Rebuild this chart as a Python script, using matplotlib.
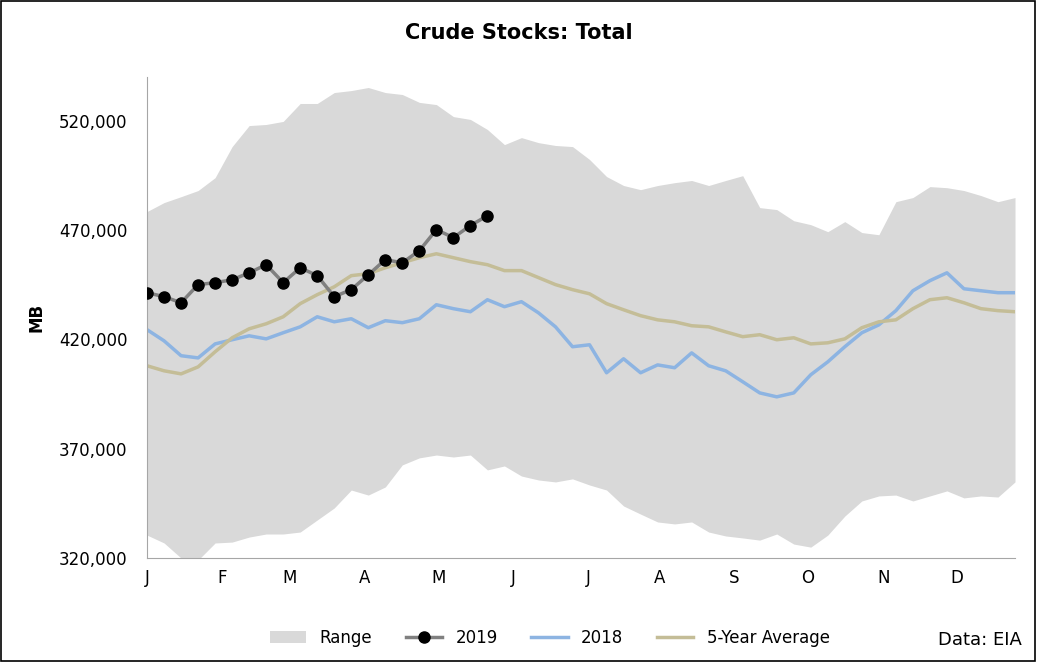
import matplotlib.pyplot as plt
import numpy as np
from matplotlib.patches import Rectangle

# weekly values, thousand barrels (MB / 1000)
stocks_2019 = [441.3, 439.5, 436.7, 445.0, 445.9, 447.2, 450.4, 454.1, 445.9, 452.7,
               449.1, 439.5, 442.7, 449.5, 456.4, 455.0, 460.5, 470.1, 466.5, 472.0, 476.5]
stocks_2018 = [424.4, 419.3, 412.5, 411.5, 417.9, 419.8, 421.6, 420.2, 423.0, 425.7,
               430.3, 428.0, 429.4, 425.3, 428.5, 427.6, 429.4, 435.8, 434.0, 432.6,
               438.1, 434.9, 437.2, 432.1, 425.7, 416.6, 417.5, 404.7, 411.1, 404.7,
               408.3, 407.0, 413.8, 407.9, 405.6, 400.6, 395.5, 393.7, 395.5, 403.8,
               409.7, 416.6, 423.0, 426.6, 433.1, 442.2, 446.8, 450.4, 443.1, 442.2,
               441.3, 441.3]
avg_5yr = [407.9, 405.6, 404.2, 407.4, 414.3, 420.7, 424.8, 427.1, 430.3, 436.3,
           440.4, 444.0, 449.1, 450.0, 452.7, 455.0, 457.3, 459.1, 457.3, 455.5,
           454.1, 451.4, 451.4, 448.2, 445.0, 442.7, 440.8, 436.3, 433.5, 430.8,
           428.9, 428.0, 426.2, 425.7, 423.4, 421.2, 422.1, 419.8, 420.7, 417.9,
           418.4, 420.2, 425.3, 428.0, 428.9, 434.0, 438.1, 439.0, 436.7, 434.0,
           433.1, 432.6]
range_max = [478.4, 482.5, 485.2, 488.0, 493.9, 508.1, 517.7, 518.2, 519.6, 527.8,
             527.8, 532.8, 533.7, 535.1, 532.8, 531.9, 528.3, 527.3, 521.8, 520.5,
             515.9, 509.0, 512.2, 509.9, 508.6, 508.1, 502.2, 494.4, 490.3, 488.4,
             490.3, 491.6, 492.6, 490.3, 492.6, 494.8, 480.2, 479.3, 474.2, 472.4,
             469.2, 473.8, 468.8, 467.8, 482.9, 484.8, 489.8, 489.3, 488.0, 485.7,
             482.9, 484.8]
range_min = [330.5, 326.9, 320.0, 319.1, 326.9, 327.3, 329.6, 331.0, 331.0, 331.9,
             337.4, 342.9, 351.1, 348.8, 352.5, 362.6, 365.8, 367.1, 366.2, 367.1,
             360.3, 362.1, 357.5, 355.7, 354.8, 356.2, 353.4, 351.1, 343.8, 340.1,
             336.5, 335.6, 336.5, 331.9, 330.1, 329.2, 328.2, 331.0, 326.4, 325.0,
             330.5, 339.2, 346.1, 348.4, 348.8, 346.1, 348.4, 350.7, 347.5, 348.4,
             347.9, 354.8]
month_labels = ['J', 'F', 'M', 'A', 'M', 'J', 'J', 'A', 'S', 'O', 'N', 'D']
month_pos = [0, 4.4, 8.4, 12.8, 17.1, 21.5, 25.9, 30.1, 34.5, 38.8, 43.3, 47.6]

weeks = np.arange(52)
k = 1000

fig = plt.figure(figsize=(10.37, 6.62), dpi=100)
ax = fig.add_axes([0.1418, 0.157, 0.837, 0.727])

ax.fill_between(weeks, np.array(range_min) * k, np.array(range_max) * k,
                color='#d9d9d9', lw=0, label='Range')
ax.plot(np.arange(len(stocks_2019)), np.array(stocks_2019) * k, color='#808080', lw=2.5,
        marker='o', ms=8, mfc='black', mec='black', label='2019', zorder=4)
ax.plot(weeks, np.array(stocks_2018) * k, color='#8db4e2', lw=2.5, label='2018')
ax.plot(weeks, np.array(avg_5yr) * k, color='#c4bd97', lw=2.5, label='5-Year Average')

ax.set_xlim(0, 51)
ax.set_ylim(320000, 540000)
ax.set_yticks(np.arange(320000, 520001, 50000))
ax.yaxis.set_major_formatter(plt.FuncFormatter(lambda v, p: f'{int(v):,}'))
ax.set_xticks(month_pos)
ax.set_xticklabels(month_labels)
ax.tick_params(length=0, labelsize=12, pad=8)
ax.tick_params(axis='y', pad=14)
for s in ['top', 'right']:
    ax.spines[s].set_visible(False)
for s in ['left', 'bottom']:
    ax.spines[s].set_color('#a6a6a6')
ax.set_ylabel('MB', fontsize=12, fontweight='bold', labelpad=10)

fig.suptitle('Crude Stocks: Total', fontsize=15, fontweight='bold', y=0.965)
fig.legend(loc='lower center', ncol=4, frameon=False, fontsize=12,
           bbox_to_anchor=(0.53, 0.0), handlelength=2.2)
fig.text(0.985, 0.025, 'Data: EIA', ha='right', fontsize=13)
fig.patches.append(Rectangle((0.001, 0.001), 0.997, 0.997, transform=fig.transFigure,
                             fill=False, ec='black', lw=1.2))

fig.savefig('out.png', dpi=100)
